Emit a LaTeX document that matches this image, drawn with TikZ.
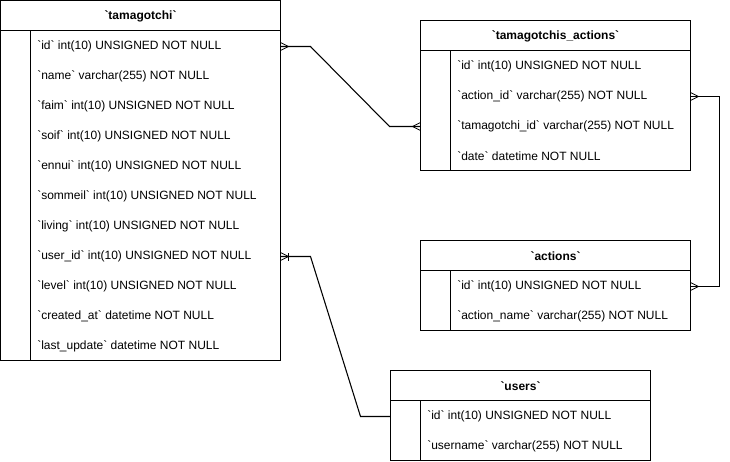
\documentclass[tikz,border=0pt]{standalone}
\usepackage{fontspec}
\setmainfont{Liberation Sans}[Ligatures=TeXOff]
\usetikzlibrary{calc,decorations.markings}

\tikzset{
    tablebox/.style={draw, fill=white, line width=0.8pt, rectangle, anchor=north west, inner sep=0pt, outer sep=0pt},
    title/.style={font=\bfseries\fontsize{9}{11}\selectfont, inner sep=0pt, yshift=-0.75pt},
    field/.style={anchor=west, font=\fontsize{9}{11}\selectfont, inner sep=0pt, yshift=-0.75pt},
    conn/.style={line width=0.8pt},
    crow start/.style={postaction={decorate, decoration={markings,
        mark=at position 0 with {\draw[line width=0.6pt] (0,4) -- (8,0) -- (0,-4);}}}},
    crow end/.style={postaction={decorate, decoration={markings,
        mark=at position 1 with {\draw[line width=0.6pt] (0,4) -- (-8,0) -- (0,-4);}}}},
    bar start/.style={postaction={decorate, decoration={markings,
        mark=at position 0 with {\draw[line width=0.6pt] (8,4) -- (8,-4);}}}}
}

\begin{document}
\begin{tikzpicture}[x=0.75pt, y=-0.75pt]

    \useasboundingbox (0,0) rectangle (730,461);

    % tamagotchi
    \node[tablebox, minimum width=210pt, minimum height=270pt] (tama) at (0.5,0.5) {};
    \draw[line width=0.8pt] (0.5,30.5) -- (280.5,30.5);
    \draw[line width=0.8pt] (30.5,30.5) -- (30.5,360.5);
    \node[title] (tama-title) at (140.5,15.5) {`tamagotchi`};
    \node[field] (t-id)      at (37,45.5)  {`id` int(10) UNSIGNED NOT NULL};
    \node[field] (t-name)    at (37,75.5)  {`name` varchar(255) NOT NULL};
    \node[field] (t-faim)    at (37,105.5) {`faim` int(10) UNSIGNED NOT NULL};
    \node[field] (t-soif)    at (37,135.5) {`soif` int(10) UNSIGNED NOT NULL};
    \node[field] (t-ennui)   at (37,165.5) {`ennui` int(10) UNSIGNED NOT NULL};
    \node[field] (t-sommeil) at (37,195.5) {`sommeil` int(10) UNSIGNED NOT NULL};
    \node[field] (t-living)  at (37,225.5) {`living` int(10) UNSIGNED NOT NULL};
    \node[field] (t-user)    at (37,255.5) {`user\_id` int(10) UNSIGNED NOT NULL};
    \node[field] (t-level)   at (37,285.5) {`level` int(10) UNSIGNED NOT NULL};
    \node[field] (t-created) at (37,315.5) {`created\_at` datetime NOT NULL};
    \node[field] (t-update)  at (37,345.5) {`last\_update` datetime NOT NULL};

    % tamagotchis_actions
    \node[tablebox, minimum width=202.5pt, minimum height=112.5pt] (tacts) at (420.5,20.5) {};
    \draw[line width=0.8pt] (420.5,50.5) -- (690.5,50.5);
    \draw[line width=0.8pt] (450.5,50.5) -- (450.5,170.5);
    \node[title] (tacts-title) at (555.5,35.5) {`tamagotchis\_actions`};
    \node[field] (ta-id)     at (457,65.5)  {`id` int(10) UNSIGNED NOT NULL};
    \node[field] (ta-action) at (457,95.5)  {`action\_id` varchar(255) NOT NULL};
    \node[field] (ta-tid)    at (457,125.5) {`tamagotchi\_id` varchar(255) NOT NULL};
    \node[field] (ta-date)   at (457,155.5) {`date` datetime NOT NULL};

    % actions
    \node[tablebox, minimum width=202.5pt, minimum height=67.5pt] (acts) at (420.5,240.5) {};
    \draw[line width=0.8pt] (420.5,270.5) -- (690.5,270.5);
    \draw[line width=0.8pt] (450.5,270.5) -- (450.5,330.5);
    \node[title] (acts-title) at (555.5,255.5) {`actions`};
    \node[field] (a-id)   at (457,285.5) {`id` int(10) UNSIGNED NOT NULL};
    \node[field] (a-name) at (457,315.5) {`action\_name` varchar(255) NOT NULL};

    % users
    \node[tablebox, minimum width=195pt, minimum height=67.5pt] (users) at (390.5,370.5) {};
    \draw[line width=0.8pt] (390.5,400.5) -- (650.5,400.5);
    \draw[line width=0.8pt] (420.5,400.5) -- (420.5,460.5);
    \node[title] (users-title) at (520.5,385.5) {`users`};
    \node[field] (u-id)   at (427,415.5) {`id` int(10) UNSIGNED NOT NULL};
    \node[field] (u-name) at (427,445.5) {`username` varchar(255) NOT NULL};

    % relations
    \draw[conn, crow start, crow end] (tama.east |- t-id) -- ++(30,0)
        -- ($(tacts.west |- ta-tid)+(-31,0)$) -- (tacts.west |- ta-tid);
    \draw[conn, crow start, crow end] (tacts.east |- ta-action) -- ++(29,0)
        |- (acts.east |- a-id);
    \draw[conn, crow start, bar start] (tama.east |- t-user) -- ++(30,0)
        -- ($(users.west |- u-id)+(-30,0)$) -- (users.west |- u-id);

\end{tikzpicture}
\end{document}
